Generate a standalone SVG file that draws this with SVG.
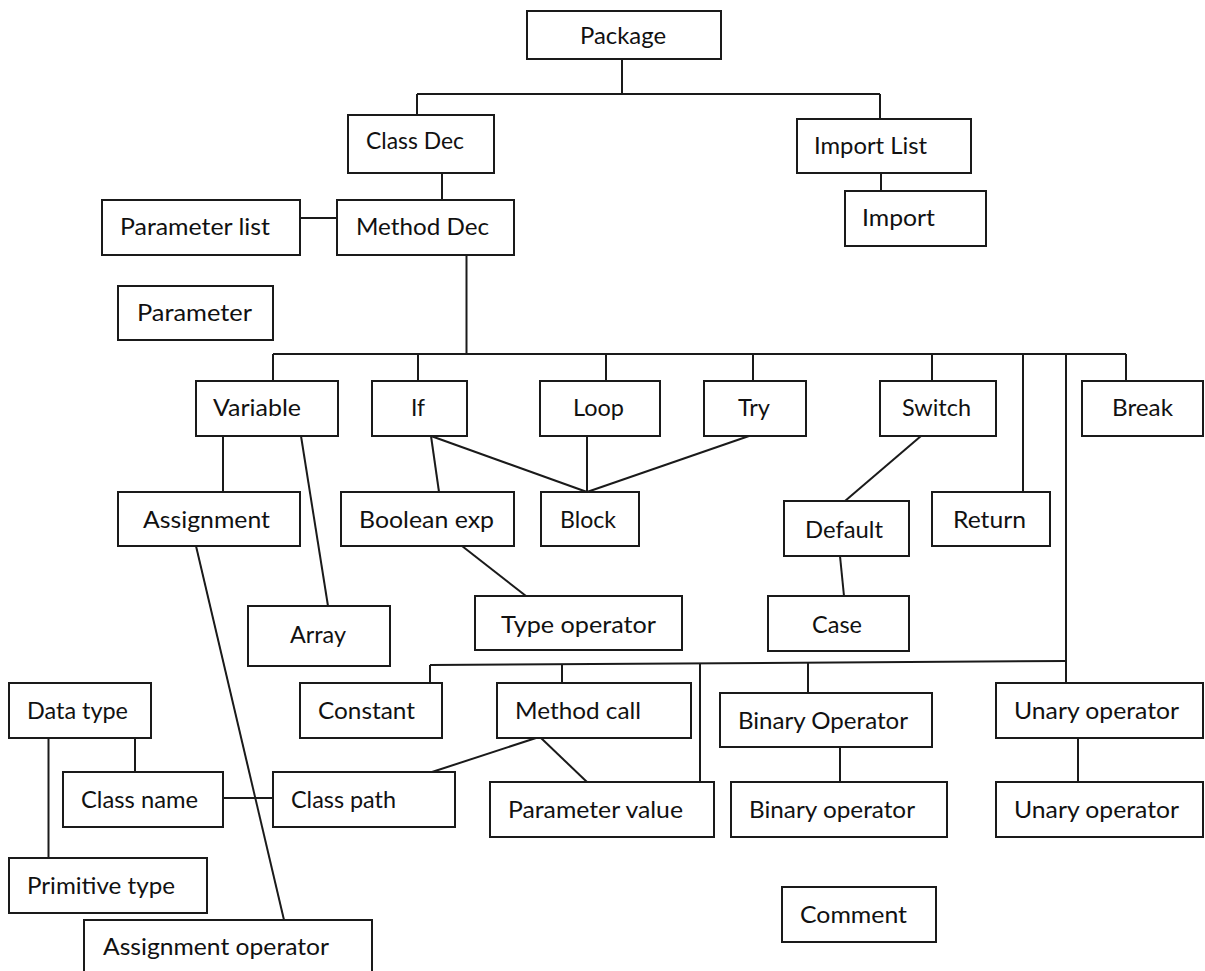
<svg xmlns="http://www.w3.org/2000/svg" width="1205" height="971" viewBox="0 0 1205 971">
<style>
.b rect{fill:#fff;stroke:#1a1a1a;stroke-width:2}
.b text{font-family:Lato,"Liberation Sans",sans-serif;font-size:24px;fill:#111}
.c path{fill:none;stroke:#1a1a1a;stroke-width:2}
</style>
<rect width="1205" height="971" fill="#fff"/>
<g class="c" id="connectors">
<path d="M622,59V94M417,94H880M417,94V115M880,94V119"/>
<path d="M881,173V191"/>
<path d="M442,173V200"/>
<path d="M300,218H337"/>
<path d="M466.5,255V354"/>
<path d="M273,354H1126M273,354V381M418,354V381M606,354V381M753,354V381M932,354V381M1126,354V381"/>
<path d="M1023,354V492"/>
<path d="M1066,354V662"/>
<path d="M223,436V492"/>
<path d="M301,436L328,606"/>
<path d="M431,436L439,492"/>
<path d="M431,436L587,492"/>
<path d="M587,436V492"/>
<path d="M749,436L587,492"/>
<path d="M462,546L526,596"/>
<path d="M921,436L845,501"/>
<path d="M840,556L844,596"/>
<path d="M430,665L1066,661"/>
<path d="M430,665V683M562,664V683M700,663V782M808,662V693M1066,661V683"/>
<path d="M840,747V782"/>
<path d="M1078,738V782"/>
<path d="M48.5,738V858"/>
<path d="M135,738V772"/>
<path d="M223,798H273"/>
<path d="M536,738L432,772"/>
<path d="M541,738L587,782"/>
<path d="M196,546L284,920"/>
</g>
<g class="b">
<g id="package"><rect x="527" y="11" width="194" height="48"/><text x="580" y="44" textLength="86" lengthAdjust="spacingAndGlyphs">Package</text></g>
<g id="classdec"><rect x="348" y="115" width="146" height="58"/><text x="366" y="149" textLength="98" lengthAdjust="spacingAndGlyphs">Class Dec</text></g>
<g id="importlist"><rect x="797" y="119" width="174" height="54"/><text x="814" y="154" textLength="113" lengthAdjust="spacingAndGlyphs">Import List</text></g>
<g id="import"><rect x="845" y="191" width="141" height="55"/><text x="862" y="226" textLength="73" lengthAdjust="spacingAndGlyphs">Import</text></g>
<g id="methoddec"><rect x="337" y="200" width="177" height="55"/><text x="356" y="235" textLength="133" lengthAdjust="spacingAndGlyphs">Method Dec</text></g>
<g id="parameterlist"><rect x="102" y="200" width="198" height="55"/><text x="120" y="235" textLength="150" lengthAdjust="spacingAndGlyphs">Parameter list</text></g>
<g id="parameter"><rect x="118" y="286" width="155" height="54"/><text x="137" y="321" textLength="115" lengthAdjust="spacingAndGlyphs">Parameter</text></g>
<g id="variable"><rect x="196" y="381" width="142" height="55"/><text x="213" y="416" textLength="88" lengthAdjust="spacingAndGlyphs">Variable</text></g>
<g id="if"><rect x="372" y="381" width="95" height="55"/><text x="411" y="416" textLength="14" lengthAdjust="spacingAndGlyphs">If</text></g>
<g id="loop"><rect x="540" y="381" width="120" height="55"/><text x="573" y="416" textLength="51" lengthAdjust="spacingAndGlyphs">Loop</text></g>
<g id="try"><rect x="704" y="381" width="102" height="55"/><text x="738" y="416" textLength="32" lengthAdjust="spacingAndGlyphs">Try</text></g>
<g id="switch"><rect x="880" y="381" width="116" height="55"/><text x="902" y="416" textLength="69" lengthAdjust="spacingAndGlyphs">Switch</text></g>
<g id="break"><rect x="1082" y="381" width="121" height="55"/><text x="1112" y="416" textLength="61" lengthAdjust="spacingAndGlyphs">Break</text></g>
<g id="assignment"><rect x="118" y="492" width="182" height="54"/><text x="143" y="528" textLength="127" lengthAdjust="spacingAndGlyphs">Assignment</text></g>
<g id="booleanexp"><rect x="341" y="492" width="173" height="54"/><text x="359" y="528" textLength="135" lengthAdjust="spacingAndGlyphs">Boolean exp</text></g>
<g id="block"><rect x="541" y="492" width="98" height="54"/><text x="560" y="528" textLength="56" lengthAdjust="spacingAndGlyphs">Block</text></g>
<g id="default"><rect x="784" y="501" width="125" height="55"/><text x="805" y="538" textLength="78" lengthAdjust="spacingAndGlyphs">Default</text></g>
<g id="return"><rect x="932" y="492" width="118" height="54"/><text x="953" y="528" textLength="73" lengthAdjust="spacingAndGlyphs">Return</text></g>
<g id="array"><rect x="248" y="606" width="142" height="60"/><text x="290" y="643" textLength="56" lengthAdjust="spacingAndGlyphs">Array</text></g>
<g id="typeoperator"><rect x="475" y="596" width="207" height="54"/><text x="501" y="633" textLength="155" lengthAdjust="spacingAndGlyphs">Type operator</text></g>
<g id="case"><rect x="768" y="596" width="141" height="55"/><text x="812" y="633" textLength="50" lengthAdjust="spacingAndGlyphs">Case</text></g>
<g id="constant"><rect x="300" y="683" width="142" height="55"/><text x="318" y="719" textLength="97" lengthAdjust="spacingAndGlyphs">Constant</text></g>
<g id="methodcall"><rect x="497" y="683" width="194" height="55"/><text x="515" y="719" textLength="126" lengthAdjust="spacingAndGlyphs">Method call</text></g>
<g id="binaryoperator1"><rect x="720" y="693" width="212" height="54"/><text x="738" y="729" textLength="170" lengthAdjust="spacingAndGlyphs">Binary Operator</text></g>
<g id="unaryoperator1"><rect x="996" y="683" width="207" height="55"/><text x="1014" y="719" textLength="165" lengthAdjust="spacingAndGlyphs">Unary operator</text></g>
<g id="datatype"><rect x="9" y="683" width="142" height="55"/><text x="27" y="719" textLength="101" lengthAdjust="spacingAndGlyphs">Data type</text></g>
<g id="classname"><rect x="63" y="772" width="160" height="55"/><text x="81" y="808" textLength="117" lengthAdjust="spacingAndGlyphs">Class name</text></g>
<g id="classpath"><rect x="273" y="772" width="182" height="55"/><text x="291" y="808" textLength="105" lengthAdjust="spacingAndGlyphs">Class path</text></g>
<g id="parametervalue"><rect x="490" y="782" width="224" height="55"/><text x="508" y="818" textLength="175" lengthAdjust="spacingAndGlyphs">Parameter value</text></g>
<g id="binaryoperator2"><rect x="731" y="782" width="216" height="55"/><text x="749" y="818" textLength="166" lengthAdjust="spacingAndGlyphs">Binary operator</text></g>
<g id="unaryoperator2"><rect x="996" y="782" width="207" height="55"/><text x="1014" y="818" textLength="165" lengthAdjust="spacingAndGlyphs">Unary operator</text></g>
<g id="primitivetype"><rect x="9" y="858" width="198" height="55"/><text x="27" y="894" textLength="148" lengthAdjust="spacingAndGlyphs">Primitive type</text></g>
<g id="assignmentoperator"><rect x="84" y="920" width="288" height="65"/><text x="103" y="955" textLength="226" lengthAdjust="spacingAndGlyphs">Assignment operator</text></g>
<g id="comment"><rect x="782" y="887" width="154" height="55"/><text x="800" y="923" textLength="107" lengthAdjust="spacingAndGlyphs">Comment</text></g>
</g>
</svg>
